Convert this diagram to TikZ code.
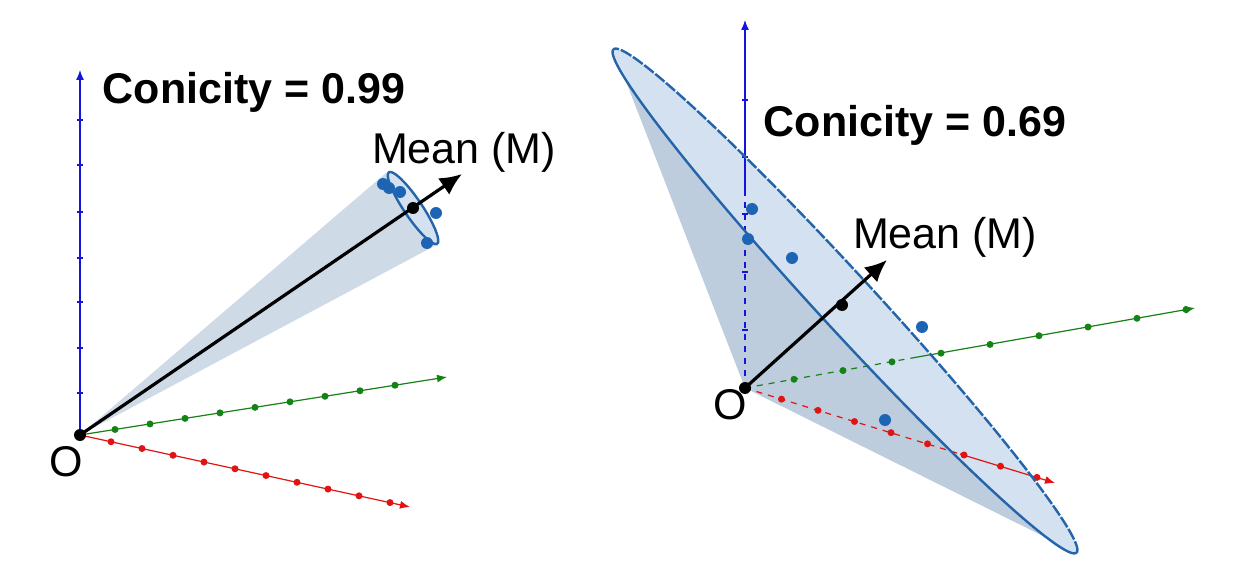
\documentclass[tikz,border=0pt]{standalone}
\usepackage{fontspec}
\setmainfont{Liberation Sans}
\usetikzlibrary{arrows.meta}
\begin{document}
\begin{tikzpicture}[x=0.5pt,y=-0.5pt,
  ax/.style={line width=0.6pt,-{Latex[length=5pt,width=4pt]}},
  dotm/.style={circle,fill,inner sep=0pt,minimum size=3.5pt},
  pt/.style={circle,fill=ptblue,inner sep=0pt,minimum size=6pt},
  lbl/.style={font=\fontsize{21.5}{24}\selectfont},
  ttl/.style={font=\bfseries\fontsize{21.5}{24}\selectfont}]
\definecolor{ptblue}{RGB}{30,100,180}
\definecolor{edge}{RGB}{35,100,170}
\definecolor{conef}{RGB}{190,205,222}
\definecolor{ellf}{RGB}{212,225,240}
\definecolor{gax}{RGB}{20,130,20}
\definecolor{rax}{RGB}{225,20,20}
\definecolor{bax}{RGB}{20,20,220}
\useasboundingbox (0,0) rectangle (1249,567);

% ---------- LEFT ----------
\coordinate (O1) at (80,435);
\coordinate (M1) at (413,208);
\fill[conef,opacity=0.75] (O1) -- (386,173) -- (440,243) -- cycle;
\fill[ellf] plot[domain=0:360,samples=60,smooth cycle] ({413+43*cos(\x)*0.56+9*sin(\x)*0.83},{208+43*cos(\x)*0.83-9*sin(\x)*0.56});
\draw[edge,line width=1.2pt] plot[domain=0:360,samples=60,smooth cycle] ({413+43*cos(\x)*0.56+9*sin(\x)*0.83},{208+43*cos(\x)*0.83-9*sin(\x)*0.56});
\draw[ax,bax] (O1) -- (80,70);
\foreach \y in {120,165,212,258,302,348,393}{\draw[bax,line width=0.6pt] (77,\y)--(83,\y);}
\draw[ax,gax] (O1) -- (447,377);
\foreach \i in {1,...,9}{\node[dotm,gax] at ({80+\i*35},{435-\i*35*0.158}) {};}
\draw[ax,rax] (O1) -- (410,507);
\foreach \i in {1,...,10}{\node[dotm,rax] at ({80+\i*31},{435+\i*31*0.218}) {};}
\node[pt] (a1) at (383,184) {};
\node[pt] (a2) at (389,188) {};
\node[pt] (a3) at (400,192) {};
\node[pt] (a4) at (436,213) {};
\node[pt] (a5) at (427,243) {};
\draw[line width=1.6pt,-{Latex[length=11pt,width=10pt]}] (O1) -- (462,174);
\node[circle,fill,inner sep=0pt,minimum size=6pt] (m1) at (M1) {};
\node[circle,fill,inner sep=0pt,minimum size=6pt] (o1) at (O1) {};
\node[lbl] at (66,462) {O};
\node[lbl] at (464,152) {Mean (M)};
\node[ttl] at (254,92) {Conicity = 0.99};

% ---------- RIGHT ----------
\coordinate (O2) at (745,388);
\coordinate (M2) at (842,305);
\def\ex{845}\def\ey{301}\def\ea{342}\def\eb{28}
\fill[conef] (O2) -- plot[domain=180:360,samples=80] ({\ex+\ea*cos(\x)*0.677+\eb*sin(\x)*0.736},{\ey+\ea*cos(\x)*0.736-\eb*sin(\x)*0.678}) -- cycle;
\fill[ellf] plot[domain=0:360,samples=120,smooth cycle] ({\ex+\ea*cos(\x)*0.677+\eb*sin(\x)*0.736},{\ey+\ea*cos(\x)*0.736-\eb*sin(\x)*0.678});
\draw[ax,bax] (745,192) -- (745,20);
\draw[bax,line width=0.6pt,dashed] (O2) -- (745,192);
\foreach \y in {100,157,214,272,330}{\draw[bax,line width=0.6pt] (742,\y)--(748,\y);}
\draw[gax,line width=0.6pt,dashed] (O2) -- (912,358);
\draw[ax,gax] (912,358) -- (1195,308);
\foreach \i in {1,...,9}{\node[dotm,gax] at ({745+\i*49},{388-\i*49*0.1778}) {};}
\draw[rax,line width=0.6pt,dashed] (O2) -- (960,454);
\draw[ax,rax] (960,454) -- (1055,483);
\foreach \i in {1,...,8}{\node[dotm,rax] at ({745+\i*36.5},{388+\i*36.5*0.306}) {};}
\draw[edge,line width=1.2pt,dash pattern=on 6pt off 1pt] plot[domain=0:180,samples=80] ({\ex+\ea*cos(\x)*0.677+\eb*sin(\x)*0.736},{\ey+\ea*cos(\x)*0.736-\eb*sin(\x)*0.678});
\draw[edge,line width=1.2pt] plot[domain=180:360,samples=80] ({\ex+\ea*cos(\x)*0.677+\eb*sin(\x)*0.736},{\ey+\ea*cos(\x)*0.736-\eb*sin(\x)*0.678});
\node[pt] (b1) at (752,209) {};
\node[pt] (b2) at (748,239) {};
\node[pt] (b3) at (792,258) {};
\node[pt] (b4) at (922,327) {};
\node[pt] (b5) at (885,420) {};
\draw[line width=1.6pt,-{Latex[length=11pt,width=10pt]}] (O2) -- (887,260);
\node[circle,fill,inner sep=0pt,minimum size=6pt] (m2) at (M2) {};
\node[circle,fill,inner sep=0pt,minimum size=6pt] (o2) at (O2) {};
\node[lbl] at (730,405) {O};
\node[lbl] at (945,237) {Mean (M)};
\node[ttl] at (915,125) {Conicity = 0.69};
\end{tikzpicture}
\end{document}
